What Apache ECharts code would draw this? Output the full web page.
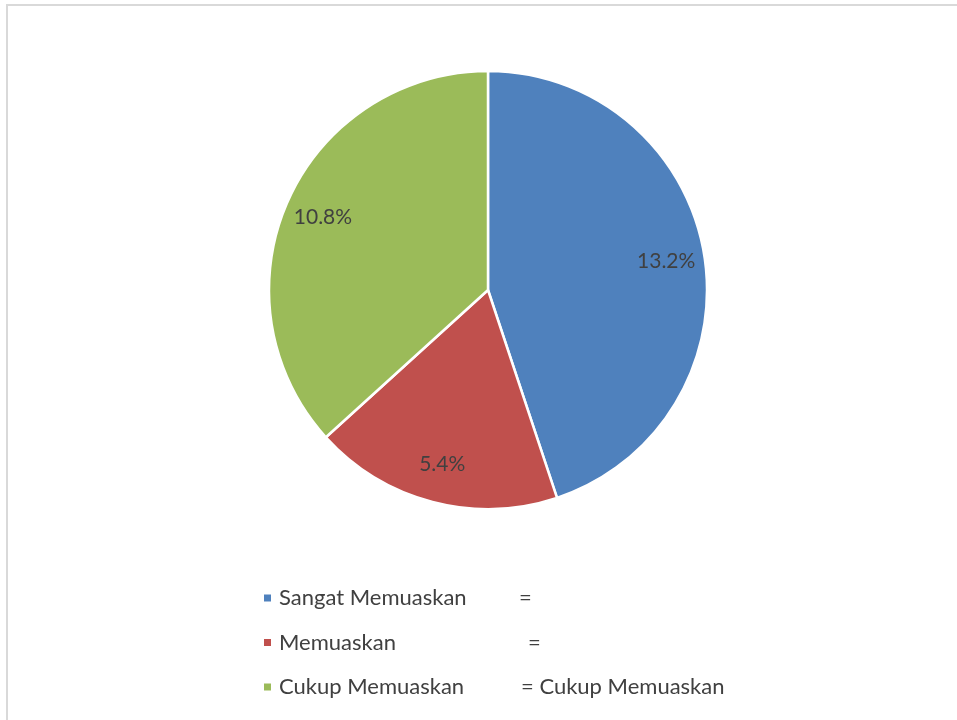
<!DOCTYPE html>
<html>
<head>
<meta charset="utf-8">
<script src="https://cdn.jsdelivr.net/npm/echarts@6/dist/echarts.min.js"></script>
<style>
  html, body { margin: 0; padding: 0; background: #fff; }
  #chart { width: 957px; height: 720px; }
</style>
</head>
<body>
<div id="chart"></div>
<script>
// data
const categories = ['Sangat Memuaskan', 'Memuaskan', 'Cukup Memuaskan']
const values = [13.2, 5.4, 10.8]
const legendTails = ['=', '=', '= Cukup Memuaskan']
const colors = ['#4F81BD', '#C0504D', '#9BBB59']

// width of the name part of each legend row (so the "=" lines up like the original)
const nameWidths = [240, 249, 242]

const chart = echarts.init(document.getElementById('chart'))

const pieData = categories.map((name, i) => ({ name: name, value: values[i] }))

const rich = {}
categories.forEach((c, i) => {
  rich['n' + i] = { width: nameWidths[i], fontSize: 22, fontFamily: 'Lato', color: '#404040', lineHeight: 26, padding: [0, 0, 0, 2] }
})
rich.t = { fontSize: 22, fontFamily: 'Lato', color: '#404040', lineHeight: 26 }

chart.setOption({
  animation: false,
  color: colors,
  graphic: [{
    type: 'rect',
    silent: true,
    shape: { x: 7, y: 5, width: 980, height: 760 },
    style: { fill: 'none', stroke: '#d9d9d9', lineWidth: 2 }
  }],
  legend: {
    orient: 'vertical',
    left: 257,
    top: 582,
    itemWidth: 9,
    itemHeight: 9,
    itemGap: 22.5,
    icon: 'rect',
    data: categories,
    formatter: (name) => {
      const i = categories.indexOf(name)
      return '{n' + i + '|' + name + '}{t|' + legendTails[i] + '}'
    },
    textStyle: { rich: rich }
  },
  series: [
    {
      name: 'pie',
      type: 'pie',
      center: [488, 290],
      radius: 219,
      startAngle: 90,
      clockwise: true,
      label: { show: false },
      labelLine: { show: false },
      itemStyle: { borderColor: '#fff', borderWidth: 2.5 },
      emphasis: { disabled: true },
      data: pieData
    },
    {
      // transparent ring only used to place the percent labels near the rim
      name: 'labels',
      type: 'pie',
      center: [488, 290],
      radius: [136, 219],
      startAngle: 90,
      clockwise: true,
      silent: true,
      legendHoverLink: false,
      itemStyle: { color: 'transparent' },
      emphasis: { disabled: true },
      label: {
        show: true,
        position: 'inside',
        formatter: (p) => p.value.toFixed(1) + '%',
        fontSize: 21,
        fontFamily: 'Lato',
        color: '#404040'
      },
      labelLine: { show: false },
      data: pieData
    }
  ]
})
</script>
</body>
</html>
